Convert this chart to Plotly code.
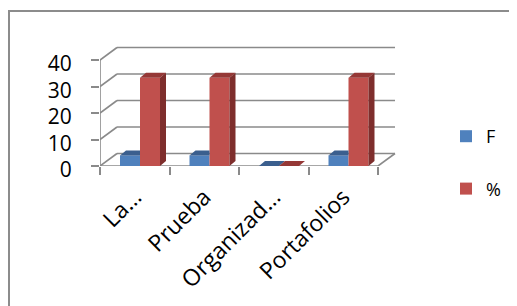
import plotly.graph_objects as go

# ---- data ----
categories = ["La…", "Prueba", "Organizad…", "Portafolios"]
series_names = ["F", "%"]
f_values = [4, 4, 0, 4]
pct_values = [33.33, 33.33, 0, 33.33]
y_ticks = [0, 10, 20, 30, 40]

# ---- styling / geometry ----
PAGE = 8                          # default body margin of the html page
W, H = 517 - PAGE, 306 - PAGE
L, R_PX, T, B_PX = 100 - PAGE, 400 - PAGE, 40 - PAGE, 166 - PAGE
PX_X = 69.5                       # px per category
PX_Y = 2.65                       # px per y unit
x_lo = -0.5
x_hi = x_lo + (R_PX - L) / PX_X
y_hi = (B_PX - T) / PX_Y
DX, DY = 17 / PX_X, 12.5 / PX_Y   # wall depth
BW = 20 / PX_X                    # bar width
OFF = [-14.75 / PX_X, 5.25 / PX_X]
FX, FY = 6 / PX_X, 5 / PX_Y       # bar depth faces
GRID = "#8a8a8a"
front = ["#4F81BD", "#C0504D"]
top = ["#3B5F8E", "#953836"]
side = ["#385A86", "#7E2E2C"]
FONT = "Open Sans"

n = len(categories)
xs = list(range(n))
vals = [f_values, pct_values]

fig = go.Figure()

for s in range(2):
    fig.add_trace(go.Bar(
        x=xs, y=vals[s], name=series_names[s], width=BW, offset=OFF[s],
        marker=dict(color=front[s], line=dict(width=0)),
        legendgroup=series_names[s], hoverinfo="skip"))

for s in range(2):
    tx, ty, sx, sy = [], [], [], []
    for i in xs:
        v = vals[s][i]
        x0 = i + OFF[s]
        x1 = x0 + BW
        clip = s == 0 and vals[1][i] > v
        if clip:
            tx += [x0, x1, x1, x0 + FX, x0, None]
        else:
            tx += [x0, x1, x1 + FX, x0 + FX, x0, None]
        ty += [v, v, v + FY, v + FY, v, None]
        if s == 1 or vals[1][i] < v:
            sx += [x1, x1, x1 + FX, x1 + FX, x1, None]
            sy += [0, v, v + FY, FY, 0, None]
    fig.add_trace(go.Scatter(x=tx, y=ty, fill="toself", fillcolor=top[s], mode="lines",
                             line=dict(width=0), showlegend=False, hoverinfo="skip"))
    if sx:
        fig.add_trace(go.Scatter(x=sx, y=sy, fill="toself", fillcolor=side[s], mode="lines",
                                 line=dict(width=0), showlegend=False, hoverinfo="skip"))

shapes = []
gl = dict(color=GRID, width=1.6)
for v in y_ticks:
    shapes.append(dict(type="line", xref="x", yref="y", x0=x_lo + DX, x1=n - 0.5 + DX,
                       y0=v + DY, y1=v + DY, line=gl, layer="below"))
    shapes.append(dict(type="line", xref="x", yref="y", x0=x_lo, x1=x_lo + DX,
                       y0=v, y1=v + DY, line=gl, layer="below"))
# front left axis, floor front, floor right edge
shapes.append(dict(type="line", xref="x", yref="y", x0=x_lo, x1=x_lo, y0=0, y1=y_ticks[-1],
                   line=gl, layer="below"))
shapes.append(dict(type="line", xref="x", yref="y", x0=x_lo, x1=n - 0.5, y0=0, y1=0,
                   line=gl, layer="below"))
shapes.append(dict(type="line", xref="x", yref="y", x0=n - 0.5, x1=n - 0.5 + DX, y0=0, y1=DY,
                   line=gl, layer="below"))
# outer chart border (window px 9, 11 -> beyond the right/bottom edges)
shapes.append(dict(type="rect", xref="paper", yref="paper",
                   x0=(9 - PAGE - L) / (R_PX - L), x1=(540 - PAGE - L) / (R_PX - L),
                   y0=(B_PX - 330) / (B_PX - T), y1=(B_PX - (11 - PAGE)) / (B_PX - T),
                   line=dict(color="#8c8c8c", width=2), fillcolor="rgba(0,0,0,0)", layer="below"))

fig.update_layout(
    width=W, height=H,
    margin=dict(l=L, r=W - R_PX, t=T, b=H - B_PX, pad=0, autoexpand=False),
    paper_bgcolor="white", plot_bgcolor="rgba(0,0,0,0)",
    barmode="overlay",
    shapes=shapes,
    font=dict(family=FONT, color="#000000"),
    xaxis=dict(range=[x_lo, x_hi], tickmode="array", tickvals=xs, ticktext=categories,
               tickangle=-45, ticks="", showgrid=False, zeroline=False, showline=False,
               automargin=False,
               tickfont=dict(size=23, family=FONT), ticklabelstandoff=12,
               minor=dict(tickmode="array", tickvals=[i - 0.5 for i in range(n + 1)],
                          ticks="outside", ticklen=8, tickcolor=GRID, tickwidth=1.6,
                          showgrid=False)),
    yaxis=dict(range=[0, y_hi], tickmode="array", tickvals=y_ticks,
               ticks="outside", ticklen=8, tickcolor=GRID, tickwidth=1.6,
               showgrid=False, zeroline=False, showline=False, automargin=False,
               tickfont=dict(size=21, family=FONT), ticklabelstandoff=15,
               ticklabelshift=4),
    legend=dict(x=(446 - PAGE - L) / (R_PX - L), xanchor="left",
                y=(B_PX - (118 - PAGE)) / (B_PX - T), yanchor="top",
                traceorder="grouped", tracegroupgap=26,
                font=dict(size=18, family=FONT), bgcolor="rgba(0,0,0,0)"),
    showlegend=True,
)

fig.write_html("out.html")
